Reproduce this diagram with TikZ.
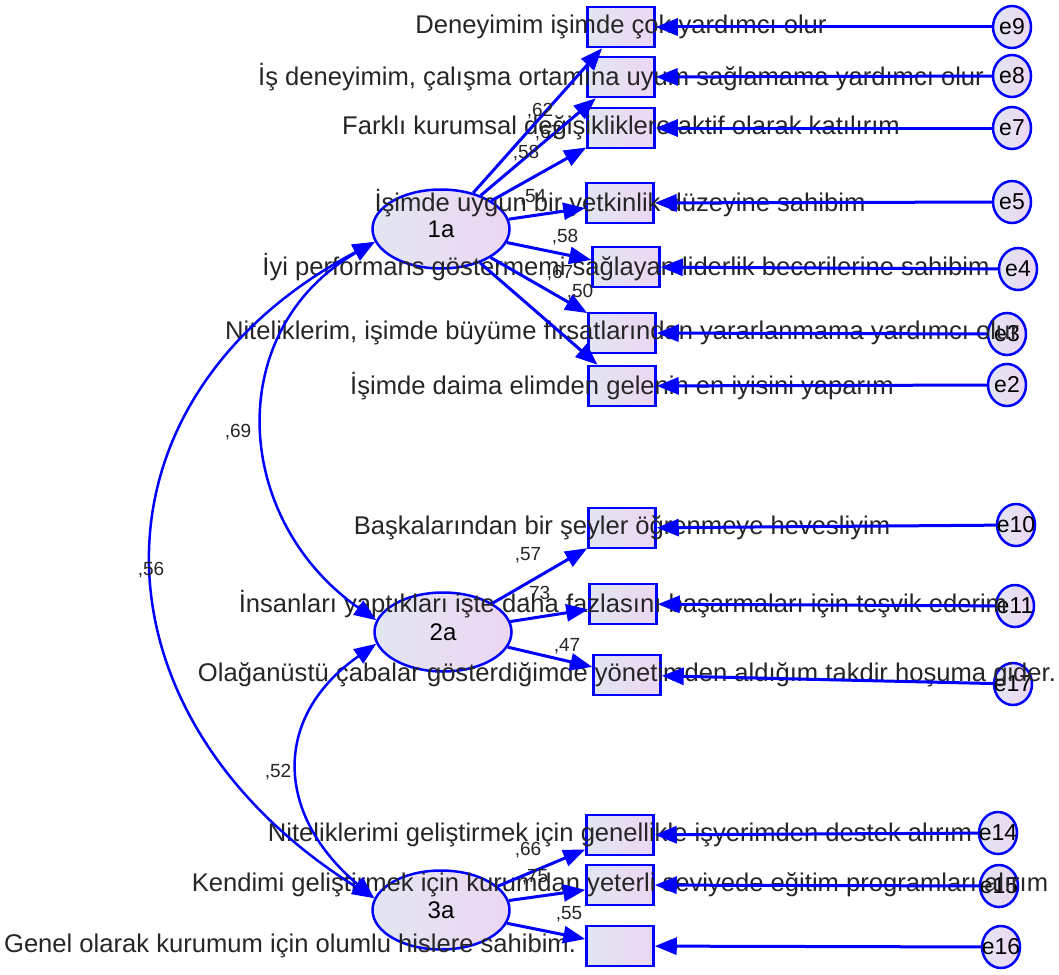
\documentclass[tikz,border=0pt]{standalone}
\usepackage{fontspec}
\setmainfont{Liberation Sans}
\usetikzlibrary{arrows.meta,shapes.geometric}

\definecolor{amosblue}{RGB}{0,0,255}
\definecolor{fillleft}{RGB}{226,230,242}
\definecolor{fillright}{RGB}{236,214,242}

\begin{document}
\begin{tikzpicture}[x=1pt,y=-1pt,
	obsbox/.style={draw=amosblue,line width=2.5pt,left color=fillleft,right color=fillright,minimum width=67pt,minimum height=40pt,inner sep=0pt},
	latent/.style={ellipse,draw=amosblue,line width=2.5pt,left color=fillleft,right color=fillright,minimum width=137pt,minimum height=79pt,inner sep=0pt,font=\fontsize{24}{28}\selectfont},
	errcirc/.style={ellipse,draw=amosblue,line width=2.5pt,left color=fillleft,right color=fillright,minimum width=38pt,minimum height=42pt,inner sep=0pt},
	errtext/.style={font=\fontsize{23}{26}\selectfont,inner sep=0pt},
	itemtext/.style={font=\fontsize{25.6}{30}\selectfont,text=black!85,inner sep=0pt},
	coef/.style={font=\fontsize{19}{21}\selectfont,text=black!85,inner sep=0pt},
	regline/.style={amosblue,line width=3pt,-{Triangle[length=22pt,width=17pt]}},
	covline/.style={amosblue,line width=2.5pt,{Triangle[length=22pt,width=17pt]}-{Triangle[length=22pt,width=17pt]}}]
	\useasboundingbox (0,0) rectangle (1059,974);

	% Draw latent factors
	\node[latent] (f1) at (441,229) {1a};
	\node[latent] (f2) at (443,632) {2a};
	\node[latent] (f3) at (441,910) {3a};

	% Draw observed items
	\node[obsbox] (b9) at (621,27) {};
	\node[obsbox] (b8) at (621,77) {};
	\node[obsbox] (b7) at (621,128) {};
	\node[obsbox] (b5) at (620,203) {};
	\node[obsbox] (b4) at (626,267) {};
	\node[obsbox] (b3) at (622,333) {};
	\node[obsbox] (b2) at (622,386) {};
	\node[obsbox] (b10) at (622,528) {};
	\node[obsbox] (b11) at (623,604) {};
	\node[obsbox] (b17) at (627,675) {};
	\node[obsbox] (b14) at (620,835) {};
	\node[obsbox] (b15) at (620,885) {};
	\node[obsbox] (b16) at (620,946) {};

	% Draw error terms
	\node[errcirc,label={[errtext]center:e9}] (e9) at (1012,27) {};
	\node[errcirc,label={[errtext]center:e8}] (e8) at (1012,76) {};
	\node[errcirc,label={[errtext]center:e7}] (e7) at (1012,128) {};
	\node[errcirc,label={[errtext]center:e5}] (e5) at (1012,202) {};
	\node[errcirc,label={[errtext]center:e4}] (e4) at (1018,269) {};
	\node[errcirc,label={[errtext]center:e3}] (e3) at (1007,334) {};
	\node[errcirc,label={[errtext]center:e2}] (e2) at (1007,385) {};
	\node[errcirc,label={[errtext]center:e10}] (e10) at (1016,525) {};
	\node[errcirc,label={[errtext]center:e11}] (e11) at (1015,606) {};
	\node[errcirc,label={[errtext]center:e17}] (e17) at (1013,684) {};
	\node[errcirc,label={[errtext]center:e14}] (e14) at (998,833) {};
	\node[errcirc,label={[errtext]center:e15}] (e15) at (999,886) {};
	\node[errcirc,label={[errtext]center:e16}] (e16) at (1001,947) {};

	% Item texts
	\node[itemtext] (t9) at (b9) {Deneyimim işimde çok yardımcı olur};
	\node[itemtext] (t8) at (b8) {İş deneyimim, çalışma ortamına uyum sağlamama yardımcı olur};
	\node[itemtext] (t7) at (b7) {Farklı kurumsal değişikliklere aktif olarak katılırım};
	\node[itemtext] (t5) at (b5) {İşimde uygun bir yetkinlik düzeyine sahibim};
	\node[itemtext] (t4) at (b4) {İyi performans göstermemi sağlayan liderlik becerilerine sahibim};
	\node[itemtext] (t3) at (b3) {Niteliklerim, işimde büyüme fırsatlarından yararlanmama yardımcı olur};
	\node[itemtext] (t2) at (b2) {İşimde daima elimden gelenin en iyisini yaparım};
	\node[itemtext] (t10) at (b10) {Başkalarından bir şeyler öğrenmeye hevesliyim};
	\node[itemtext] (t11) at (b11) {İnsanları yaptıkları işte daha fazlasını başarmaları için teşvik ederim};
	\node[itemtext] (t17) at (b17) {Olağanüstü çabalar gösterdiğimde yönetimden aldığım takdir hoşuma gider.};
	\node[itemtext] (t14) at (b14) {Niteliklerimi geliştirmek için genellikle işyerimden destek alırım};
	\node[itemtext] (t15) at (b15) {Kendimi geliştirmek için kurumdan yeterli seviyede eğitim programları alırım};
	\node[itemtext,anchor=east] (t16) at ([xshift=-9pt]b16.west) {Genel olarak kurumum için olumlu hislere sahibim.};

	% Loadings
	\draw[regline] (f1) -- (b9);
	\draw[regline] (f1) -- (b8);
	\draw[regline] (f1) -- (b7);
	\draw[regline] (f1) -- (b5);
	\draw[regline] (f1) -- (b4);
	\draw[regline] (f1) -- (b3);
	\draw[regline] (f1) -- (b2);
	\draw[regline] (f2) -- (b10);
	\draw[regline] (f2) -- (b11);
	\draw[regline] (f2) -- (b17);
	\draw[regline] (f3) -- (b14);
	\draw[regline] (f3) -- (b15);
	\draw[regline] (f3) -- (b16);

	% Error arrows
	\draw[regline] (e9) -- (b9);
	\draw[regline] (e8) -- (b8);
	\draw[regline] (e7) -- (b7);
	\draw[regline] (e5) -- (b5);
	\draw[regline] (e4) -- (b4);
	\draw[regline] (e3) -- (b3);
	\draw[regline] (e2) -- (b2);
	\draw[regline] (e10) -- (b10);
	\draw[regline] (e11) -- (b11);
	\draw[regline] (e17) -- (b17);
	\draw[regline] (e14) -- (b14);
	\draw[regline] (e15) -- (b15);
	\draw[regline] (e16) -- (b16);

	% Covariances
	\draw[covline] (f1.191) to[out=210,in=145,looseness=1.19] (f2.170);
	\draw[covline] (f1.191) to[out=208,in=148,looseness=1.33] (f3.170);
	\draw[covline] (f2.190) to[out=215,in=140,looseness=1.29] (f3.170);

	% Coefficients
	\node[coef] (c1) at (540,111) {,62};
	\node[coef] (c2) at (548,133) {,67};
	\node[coef] (c3) at (526,153) {,58};
	\node[coef] (c4) at (533,197) {,54};
	\node[coef] (c5) at (565,237) {,58};
	\node[coef] (c6) at (560,273) {,67};
	\node[coef] (c7) at (580,292) {,50};
	\node[coef] (c8) at (528,555) {,57};
	\node[coef] (c9) at (537,594) {,73};
	\node[coef] (c10) at (567,646) {,47};
	\node[coef] (c11) at (528,850) {,66};
	\node[coef] (c12) at (535,877) {,75};
	\node[coef] (c13) at (569,914) {,55};
	\node[coef] (c14) at (238,432) {,69};
	\node[coef] (c15) at (151,570) {,56};
	\node[coef] (c16) at (278,772) {,52};
\end{tikzpicture}
\end{document}
